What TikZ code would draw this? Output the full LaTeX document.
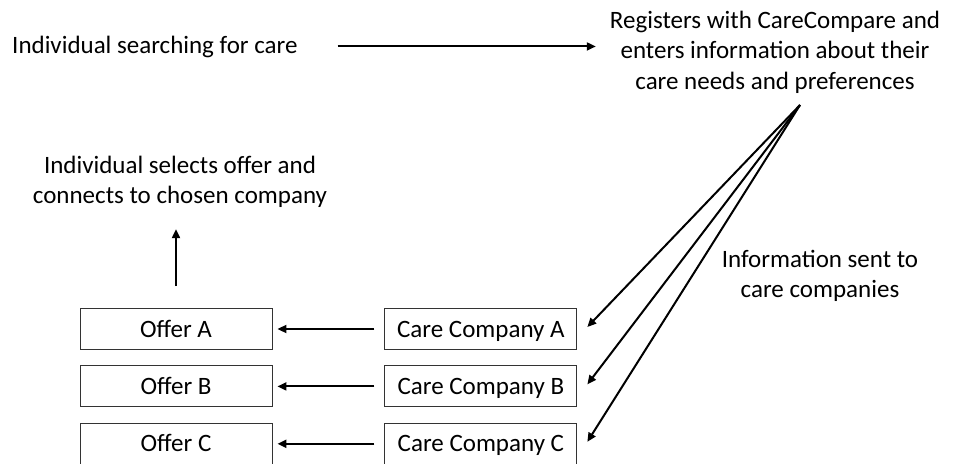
\documentclass[tikz,border=0pt]{standalone}
\usepackage{fontspec}
\setmainfont{Carlito}
\usepackage{tikz}
\usetikzlibrary{arrows.meta,positioning}

\begin{document}
\begin{tikzpicture}[
  x=1pt, y=-1pt,
  font=\fontsize{25}{30.5}\selectfont,
  boxstep/.style={draw=black!80, line width=0.9pt, minimum width=192pt, minimum height=41pt, inner sep=0pt, text height=19pt, text depth=3pt},
  lbl/.style={align=center, inner sep=0pt},
  ar/.style={-{Triangle[length=9pt,width=8pt]}, line width=2pt},
]
\useasboundingbox (0,0) rectangle (971,463);
\node[lbl, anchor=base west] (search) at (12,53) {Individual searching for care};
\node[lbl] (reg) at (775,52) {Registers with CareCompare and\\enters information about their\\care needs and preferences};
\node[lbl] (sel) at (180,182) {Individual selects offer and\\connects to chosen company};
\node[lbl] (info) at (820,276) {Information sent to\\care companies};
\node[boxstep] (offerA) at (176,329) {Offer A};
\node[boxstep, below=15.5pt of offerA] (offerB) {Offer B};
\node[boxstep, below=15.5pt of offerB] (offerC) {Offer C};
\node[boxstep, right=112pt of offerA] (careA) {Care Company A};
\node[boxstep, right=112pt of offerB] (careB) {Care Company B};
\node[boxstep, right=112pt of offerC] (careC) {Care Company C};
\coordinate (hub) at (800,105);
\draw[ar, shorten <=40pt, shorten >=14pt] (search.east) -- (search.east -| reg.west);
\draw[ar] (hub) -- ([xshift=10pt, yshift=2pt]careA.east);
\draw[ar] (hub) -- ([xshift=10pt, yshift=2pt]careB.east);
\draw[ar] (hub) -- ([xshift=10pt, yshift=2pt]careC.east);
\draw[ar, shorten <=10pt, shorten >=5pt] (careA) -- (offerA);
\draw[ar, shorten <=10pt, shorten >=5pt] (careB) -- (offerB);
\draw[ar, shorten <=10pt, shorten >=5pt] (careC) -- (offerC);
\draw[ar, shorten <=22pt, shorten >=21pt] (offerA.north) -- (offerA.north |- sel.south);
\end{tikzpicture}
\end{document}
